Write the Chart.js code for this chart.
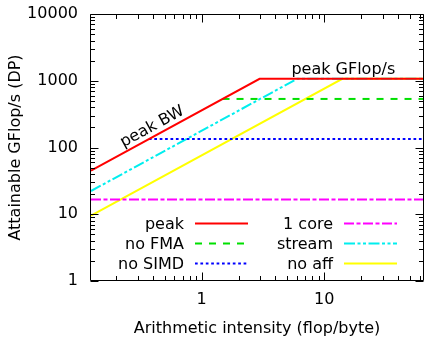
<!DOCTYPE html>
<html><head><meta charset="utf-8">
<script src="https://cdn.jsdelivr.net/npm/chart.js@4"></script>
<style>html,body{margin:0;padding:0;background:#fff}canvas{display:block}</style>
</head><body>
<canvas id="c" width="425" height="338"></canvas>
<script>
// ---- data ----
const seriesLabels = ['peak', 'no FMA', 'no SIMD', '1 core', 'stream', 'no aff'];
const peakX = [0.125, 2.97, 64];
const peakY = [45, 1068, 1068];
const noFmaX = [1.48, 64];
const noFmaY = [534, 534];
const noSimdX = [0.371, 64];
const noSimdY = [133.5, 133.5];
const oneCoreX = [0.125, 64];
const oneCoreY = [16.7, 16.7];
const streamX = [0.125, 6.0, 64];
const streamY = [22.3, 1068, 1068];
const noAffX = [0.125, 14.05, 64];
const noAffY = [9.5, 1068, 1068];
const xTickValues = [1, 10];
const yTickValues = [1, 10, 100, 1000, 10000];
const lineLabelTexts = ['peak BW', 'peak GFlop/s'];

const FONT = 'DejaVu Sans';
const pts = (xs, ys) => xs.map((x, i) => ({x: x, y: ys[i]}));

const colors = ['#ff0000', '#00e000', '#0000ff', '#ff00ff', '#00eeee', '#ffff00'];
const dashes = [[], [7, 7], [2.7, 2.7], [10, 2.5, 4, 2.5], [11, 2.5, 3, 2.5, 3, 2.5], []];
const seriesData = [pts(peakX, peakY), pts(noFmaX, noFmaY), pts(noSimdX, noSimdY),
                    pts(oneCoreX, oneCoreY), pts(streamX, streamY), pts(noAffX, noAffY)];

const datasets = seriesLabels.map((lab, i) => ({
  label: lab, data: seriesData[i], showLine: true, pointRadius: 0,
  borderColor: colors[i], borderWidth: 2, borderDash: dashes[i], fill: false, tension: 0
}));

const frameTicks = {
  id: 'frameTicks',
  afterDatasetsDraw(chart) {
    const ctx = chart.ctx, a = chart.chartArea;
    const xs = chart.scales.x, ys = chart.scales.y;
    const L = Math.round(a.left) - 0.5, R = Math.round(a.right) + 0.5;
    const T = Math.round(a.top) + 0.5, B = Math.round(a.bottom) - 0.5;
    ctx.save();
    ctx.strokeStyle = '#000'; ctx.lineWidth = 1;
    const logTicks = (mn, mx) => {
      const out = [];
      for (let e = Math.floor(Math.log10(mn)); e <= Math.ceil(Math.log10(mx)); e++) {
        for (let m = 1; m <= 9; m++) {
          const v = m * Math.pow(10, e);
          if (v >= mn * 0.999 && v <= mx * 1.001) out.push({v: v, major: m === 1});
        }
      }
      return out;
    };
    ctx.beginPath();
    logTicks(xs.min, xs.max).forEach(t => {
      const px = Math.round(xs.getPixelForValue(t.v)) + 0.5;
      const len = t.major ? 8 : 4.5;
      ctx.moveTo(px, B); ctx.lineTo(px, B - len);
      ctx.moveTo(px, T); ctx.lineTo(px, T + len);
    });
    logTicks(ys.min, ys.max).forEach(t => {
      const py = Math.round(ys.getPixelForValue(t.v)) + 0.5;
      const len = t.major ? 8 : 4.5;
      ctx.moveTo(L, py); ctx.lineTo(L + len, py);
      ctx.moveTo(R, py); ctx.lineTo(R - len, py);
    });
    ctx.stroke();
    ctx.beginPath();
    ctx.rect(L, T, R - L, B - T);
    ctx.stroke();
    ctx.restore();
  }
};

const legendBox = {
  id: 'legendBox',
  afterDraw(chart) {
    const ctx = chart.ctx, a = chart.chartArea;
    const ds = chart.data.datasets;
    ctx.save();
    ctx.font = '16px "' + FONT + '"';
    ctx.fillStyle = '#000';
    ctx.textAlign = 'right';
    ctx.textBaseline = 'middle';
    const colTextRight = [a.left + 93, a.left + 242];
    const rowY = [a.bottom - 58, a.bottom - 38, a.bottom - 18];
    ds.forEach((d, i) => {
      const col = Math.floor(i / 3), row = i % 3;
      const y = Math.round(rowY[row]) + 0.5;
      const tx = colTextRight[col];
      ctx.fillText(d.label, tx, y + 1);
      ctx.beginPath();
      ctx.strokeStyle = d.borderColor; ctx.lineWidth = 2;
      ctx.setLineDash(d.borderDash || []);
      ctx.moveTo(tx + 11, y); ctx.lineTo(tx + 64, y);
      ctx.stroke();
      ctx.setLineDash([]);
    });
    ctx.restore();
  }
};

const lineLabels = {
  id: 'lineLabels',
  afterDatasetsDraw(chart) {
    const ctx = chart.ctx, xs = chart.scales.x, ys = chart.scales.y;
    ctx.save();
    ctx.font = '16px "' + FONT + '"';
    ctx.fillStyle = '#000';
    const bw = peakY[0] / peakX[0];
    const xv = 0.43, yv = bw * xv;
    const px = xs.getPixelForValue(xv), py = ys.getPixelForValue(yv);
    const p2x = xs.getPixelForValue(xv * 2), p2y = ys.getPixelForValue(yv * 2);
    const ang = Math.atan2(p2y - py, p2x - px);
    ctx.translate(px, py);
    ctx.rotate(ang);
    ctx.textAlign = 'center'; ctx.textBaseline = 'alphabetic';
    ctx.fillText(lineLabelTexts[0], 0, -5);
    ctx.restore();
    ctx.save();
    ctx.font = '16px "' + FONT + '"';
    ctx.fillStyle = '#000';
    ctx.textAlign = 'left'; ctx.textBaseline = 'alphabetic';
    ctx.fillText(lineLabelTexts[1], xs.getPixelForValue(5.4), ys.getPixelForValue(peakY[1]) - 5);
    ctx.restore();
  }
};

new Chart(document.getElementById('c'), {
  type: 'scatter',
  data: { datasets: datasets },
  options: {
    responsive: false, animation: false, devicePixelRatio: 1,
    layout: { padding: { top: 14, right: 2, left: 0, bottom: 0 } },
    plugins: { legend: { display: false }, tooltip: { enabled: false } },
    scales: {
      x: {
        type: 'logarithmic', min: 0.125, max: 64, position: 'bottom',
        afterBuildTicks: s => { s.ticks = xTickValues.map(v => ({ value: v })); },
        afterFit: s => { s.height = 57; s.paddingLeft = 0; s.paddingRight = 0; },
        ticks: { font: { family: FONT, size: 16 }, color: '#000', padding: 9, maxRotation: 0, autoSkip: false,
                 callback: v => String(v) },
        grid: { display: false, drawTicks: false },
        border: { display: false },
        title: { display: true, text: 'Arithmetic intensity (flop/byte)', color: '#000',
                 font: { family: FONT, size: 16 }, padding: { top: 8, bottom: 0 } }
      },
      y: {
        type: 'logarithmic', min: 1, max: 10000, position: 'left',
        afterBuildTicks: s => { s.ticks = yTickValues.map(v => ({ value: v })); },
        afterFit: s => { s.width = 91; s.paddingTop = 0; s.paddingBottom = 0; },
        ticks: { font: { family: FONT, size: 16 }, color: '#000', padding: 13, autoSkip: false,
                 callback: v => String(v) },
        grid: { display: false, drawTicks: false },
        border: { display: false },
        title: { display: true, text: 'Attainable GFlop/s (DP)', color: '#000',
                 font: { family: FONT, size: 16 }, padding: { top: 6, bottom: 0 } }
      }
    }
  },
  plugins: [frameTicks, legendBox, lineLabels]
});
</script>
</body></html>
